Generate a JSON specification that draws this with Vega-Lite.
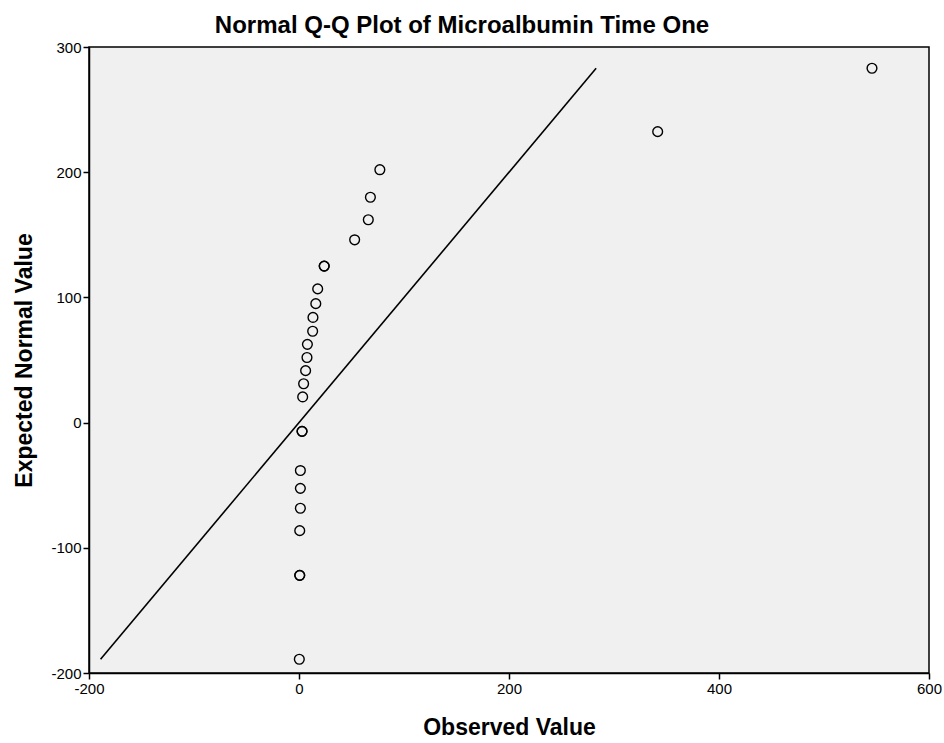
{
  "$schema": "https://vega.github.io/schema/vega-lite/v6.json",
  "width": 840,
  "height": 626,
  "autosize": {"type": "none"},
  "padding": {"left": 89, "top": 47, "right": 15, "bottom": 70},
  "background": "#ffffff",
  "config": {
    "font": "Liberation Sans",
    "view": {"fill": "#f0f0f0", "stroke": "#000000", "strokeWidth": 1.5},
    "axis": {
      "grid": false,
      "domainColor": "#000000",
      "domainWidth": 1.5,
      "tickColor": "#000000",
      "tickWidth": 1.5,
      "tickSize": 6,
      "labelColor": "#000000",
      "labelFontSize": 15,
      "labelFont": "Liberation Sans",
      "labelFlush": false,
      "labelExpr": "'' + datum.value",
      "titleFont": "Liberation Sans",
      "titleFontSize": 23,
      "titleFontWeight": "bold",
      "titleColor": "#000000"
    }
  },
  "title": {
    "text": "Normal Q-Q Plot of Microalbumin Time One",
    "font": "Liberation Sans",
    "fontSize": 24,
    "fontWeight": "bold",
    "color": "#000000",
    "anchor": "middle",
    "offset": 2,
    "dx": -47
  },
  "layer": [
    {
      "data": {"values": [{"x0": -189, "y0": -189, "x1": 283, "y1": 283}]},
      "mark": {"type": "rule", "color": "#000000", "strokeWidth": 1.6},
      "encoding": {
        "x": {"field": "x0", "type": "quantitative"},
        "y": {"field": "y0", "type": "quantitative"},
        "x2": {"field": "x1"},
        "y2": {"field": "y1"}
      }
    },
    {
      "data": {
        "values": [
          {"observed": 545.7, "expected": 283},
          {"observed": 341.6, "expected": 232.4},
          {"observed": 77, "expected": 202},
          {"observed": 68, "expected": 180},
          {"observed": 66, "expected": 162},
          {"observed": 53, "expected": 146},
          {"observed": 24, "expected": 125},
          {"observed": 24, "expected": 125},
          {"observed": 17.8, "expected": 106.8},
          {"observed": 16, "expected": 95},
          {"observed": 13.3, "expected": 84},
          {"observed": 13, "expected": 73},
          {"observed": 8, "expected": 62.5},
          {"observed": 7.6, "expected": 52},
          {"observed": 6.3, "expected": 41.5},
          {"observed": 4.4, "expected": 31},
          {"observed": 3.5, "expected": 20.5},
          {"observed": 2.9, "expected": -7},
          {"observed": 2.9, "expected": -7},
          {"observed": 1.3, "expected": -38.3},
          {"observed": 1.3, "expected": -52.5},
          {"observed": 1.3, "expected": -68.4},
          {"observed": 0.7, "expected": -86.3},
          {"observed": 0.7, "expected": -122},
          {"observed": 0.7, "expected": -122},
          {"observed": 0.3, "expected": -189}
        ]
      },
      "mark": {"type": "point", "shape": "circle", "filled": false, "color": "#000000", "strokeWidth": 1.4, "size": 95, "opacity": 1},
      "encoding": {
        "x": {
          "field": "observed",
          "type": "quantitative",
          "title": "Observed Value",
          "scale": {"domain": [-200, 600], "nice": false, "zero": false},
          "axis": {"values": [-200, 0, 200, 400, 600], "labelPadding": 2, "titlePadding": 20}
        },
        "y": {
          "field": "expected",
          "type": "quantitative",
          "title": "Expected Normal Value",
          "scale": {"domain": [-200, 300], "nice": false, "zero": false},
          "axis": {"values": [-200, -100, 0, 100, 200, 300], "labelPadding": 2, "titlePadding": 14}
        }
      }
    }
  ]
}
